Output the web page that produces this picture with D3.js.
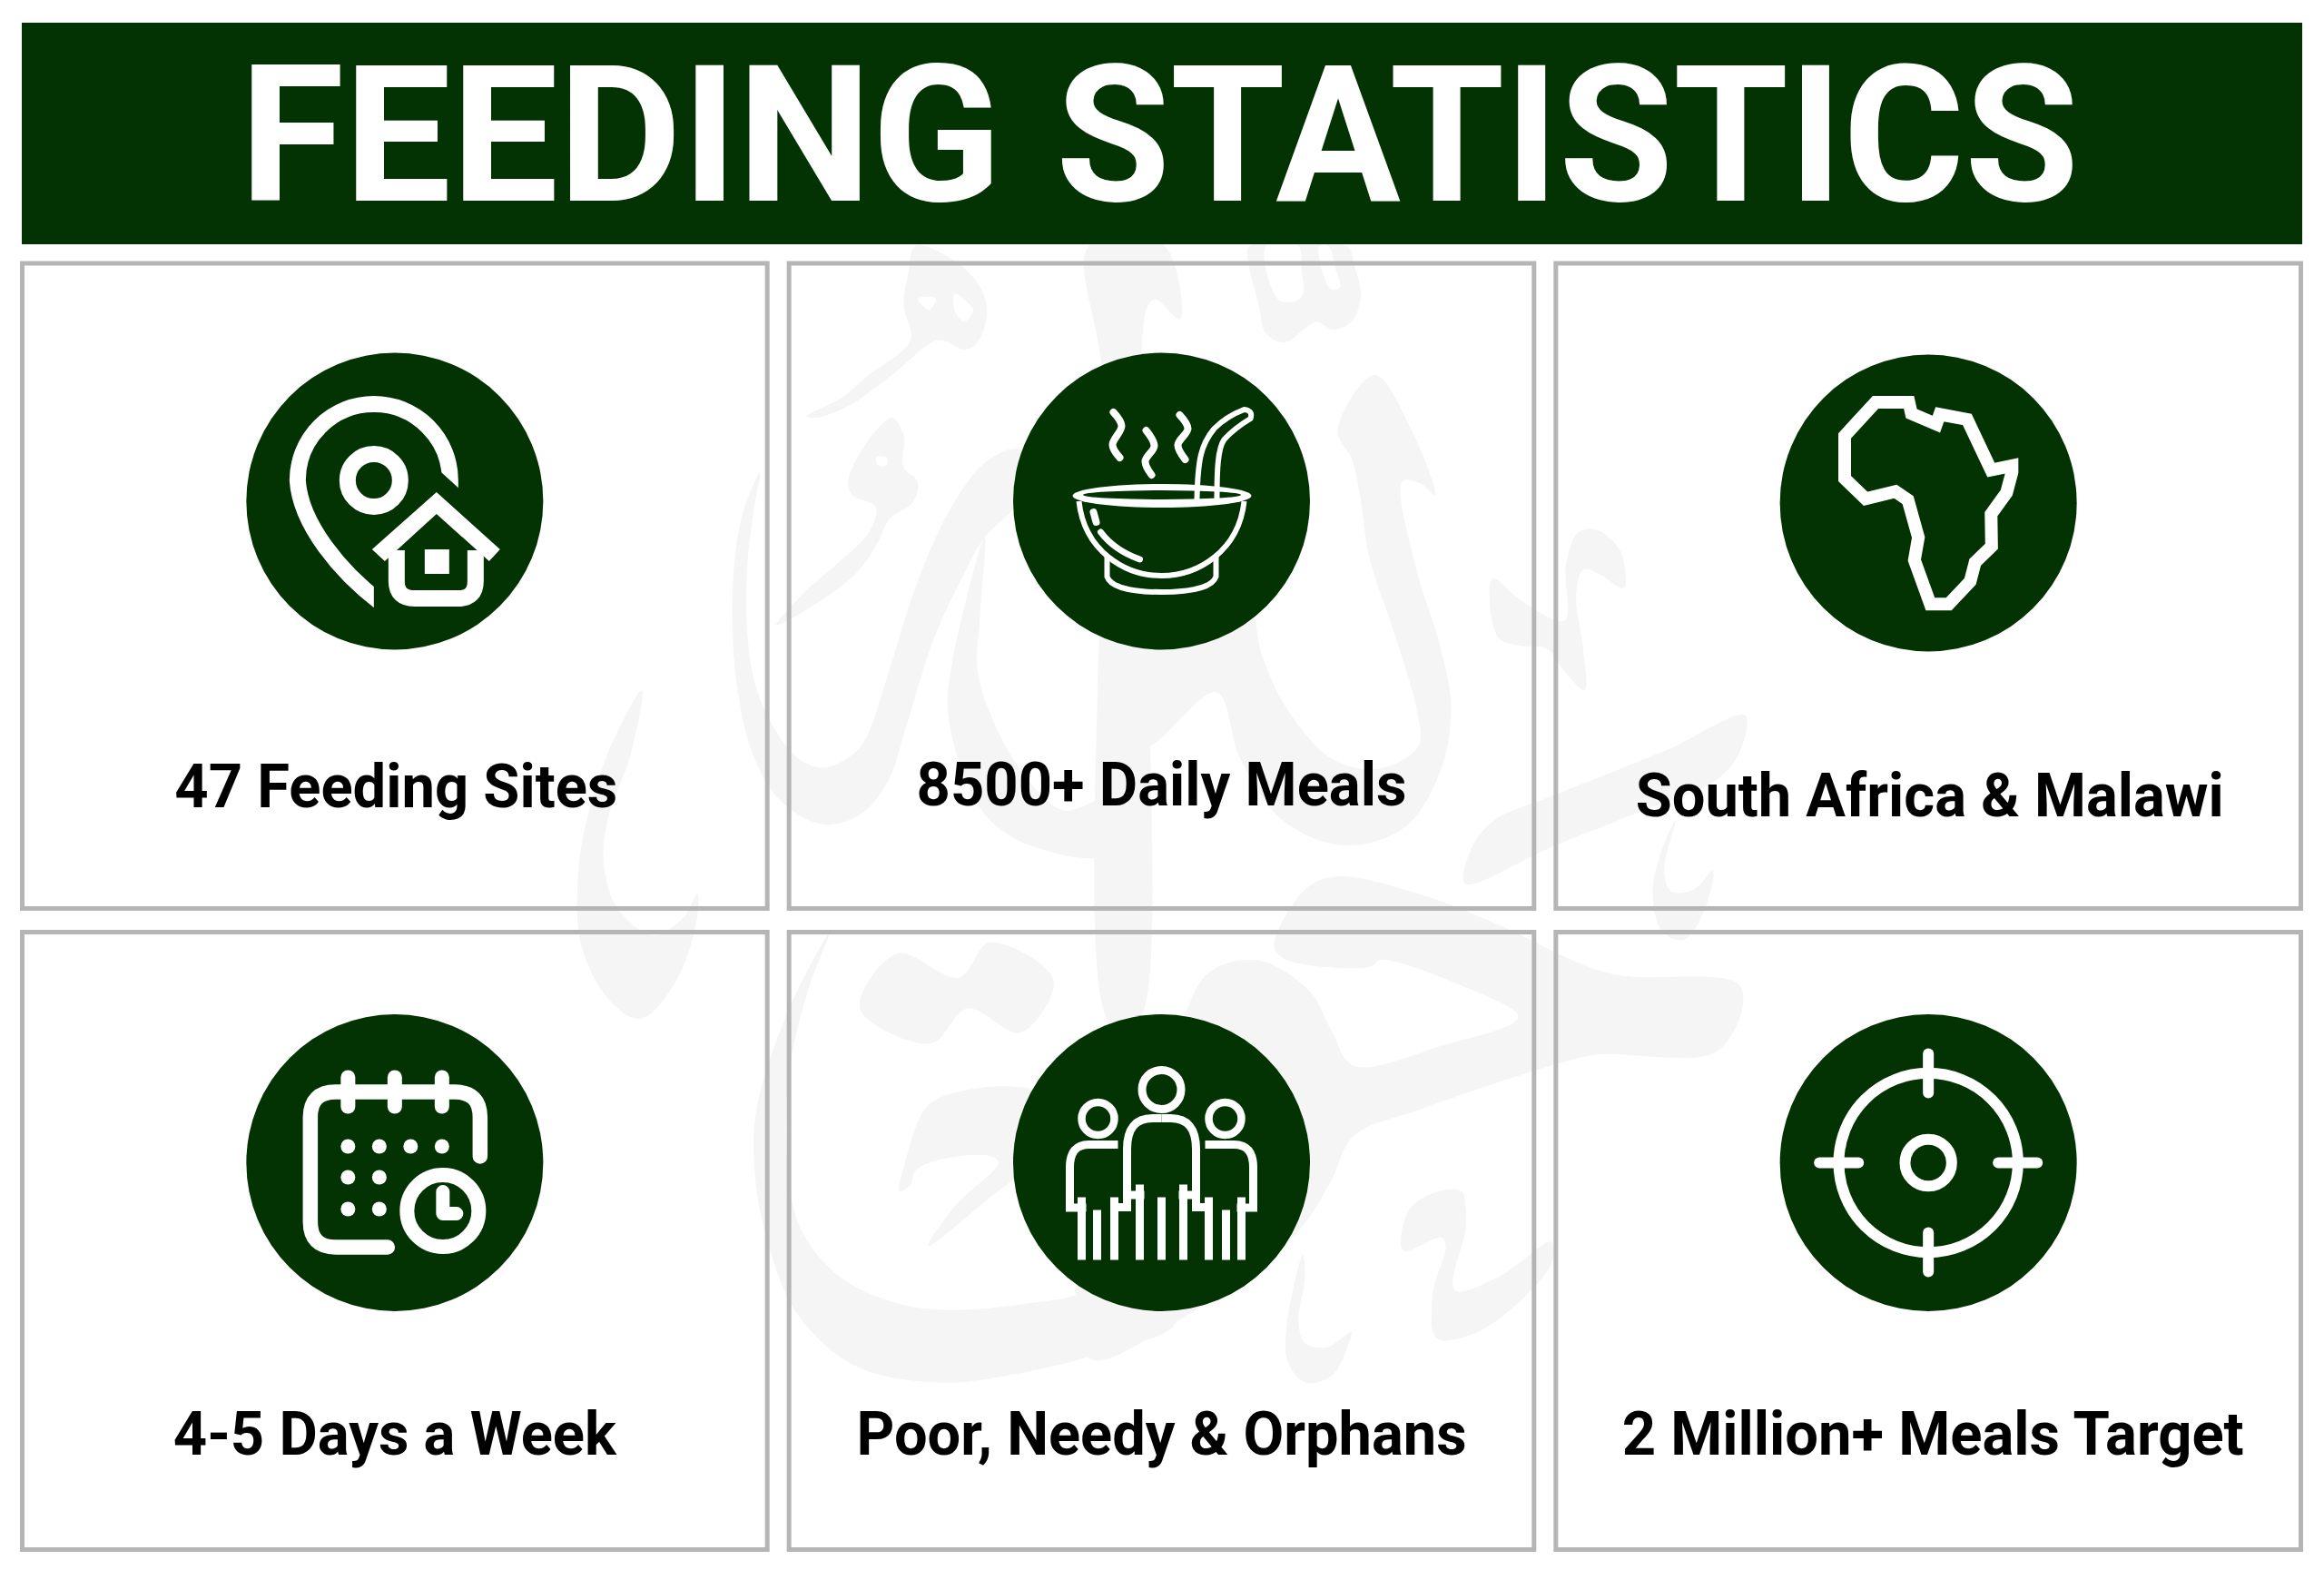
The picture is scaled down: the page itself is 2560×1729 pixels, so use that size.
<!DOCTYPE html>
<html>
<head>
<meta charset="utf-8">
<title>Feeding Statistics</title>
<script src="https://cdn.jsdelivr.net/npm/d3@7"></script>
<style>
  body { margin: 0; background: #fff; }
  svg { display: block; }
  text { font-family: Roboto, sans-serif; font-weight: 700; }
</style>
</head>
<body>
<script>
// chart content
var titleWords = ["FEEDING", "STATISTICS"];
var labels = ["47 Feeding Sites", "8500+ Daily Meals", "South Africa & Malawi",
              "4-5 Days a Week", "Poor, Needy & Orphans", "2 Million+ Meals Target"];
var icons = ["pin", "bowl", "africa", "calendar", "people", "target"];

// measured layout
var titleStarts = [264, 1163];
var titleWidths = [839, 1127];
var labelWidths = [488, 540, 648, 488, 672, 685];
var labelShifts = [1.5, 0, 1.5, 0, 0, 5];
var labelBaselines = [889, 887, 899, 1602, 1602, 1602];
var circleY = [552, 552, 554, 1280.5, 1280.5, 1280.5];
var rowTops = [290, 1026.5];
var rowBottoms = [1000.5, 1706.5];

var green = "#033302", grey = "#b5b5b5", faint = "#f5f5f5";
var width = 2560, height = 1729;

var svg = d3.select("body").append("svg")
    .attr("width", width)
    .attr("height", height);

var col = d3.scaleBand().domain([0, 1, 2]).range([22, 2537]).paddingInner(19 / 845);

function crop(ox, oy, s, pts) {
  var x = d3.scaleLinear().domain([0, s]).range([ox, ox + 1]);
  var y = d3.scaleLinear().domain([0, s]).range([oy, oy + 1]);
  return pts.map(function(p) { return [x(p[0]), y(p[1])]; });
}
var A = function(p) { return crop(600, 270, 1.96, p); };
var B = function(p) { return crop(1300, 270, 1.96, p); };
var C = function(p) { return crop(780, 970, 2.063, p); };
var D = function(p) { return crop(1200, 970, 2.063, p); };

var shapes = [
  A([[565,370],[640,330],[700,280],[790,205],[775,130],[785,60],[800,2],[880,30],[940,90],[955,150],[930,215],[905,225],[850,205],[750,280],[660,345],[590,372]]),
  A([[750,372],[775,410],[775,480],[805,510],[795,555],[745,590],[720,640],[680,700],[600,765],[500,820],[560,750],[640,680],[700,620],[715,565],[665,540],[655,510],[680,450],[720,395]]),
  A([[465,490],[430,570],[410,680],[405,800],[415,950],[450,1100],[510,1200],[600,1250],[680,1230],[740,1160],[780,1040],[840,850],[900,720],[950,630],[1020,560],[1060,470],[1020,440],[950,470],[870,580],[800,740],[740,930],[690,1070],[650,1110],[600,1128],[550,1110],[500,1050],[455,950],[437,830],[437,700],[450,580]]),
  A([[950,630],[880,900],[870,1000],[900,1130],[960,1240],[1060,1300],[1210,1315],[1210,1200],[1120,1220],[1040,1150],[970,1030],[935,920],[940,800]]),
  [[1200,270],[1215,420],[1215,1110],[1240,1150],[1263,1100],[1263,340],[1273,330],[1300,352],[1282,270]],
  A([[1300,870],[1300,1080],[1450,965],[1502,1110],[1592,1240],[1722,1295],[1852,1260],[1932,1140],[1957,1000],[1932,860],[1882,700],[1852,510],[1892,515],[1922,540],[1872,400],[1792,280],[1712,400],[1742,460],[1757,520],[1782,680],[1832,830],[1882,1000],[1887,1080],[1802,1130],[1702,1110],[1602,1000],[1547,880],[1522,780],[1400,700]]),
  B([[145,20],[170,130],[185,190],[225,210],[270,180],[295,165],[330,182],[370,165],[390,110],[375,40],[360,2],[150,2]]),
  B([[675,720],[740,770],[830,810],[833,690],[860,620],[900,615],[950,660],[958,740],[905,710],[870,700],[855,760],[870,870],[873,960],[830,920],[790,870],[740,865],[690,850],[670,790]]),
  B([[1220,1015],[1205,1100],[1150,1160],[1000,1220],[800,1300],[615,1378],[630,1300],[680,1240],[800,1190],[1050,1090]]),
  B([[1070,1240],[1035,1320],[1020,1400],[1040,1480],[1085,1500],[1130,1440],[1150,1350],[1110,1390],[1060,1395],[1045,1350]]),
  D([[420,150],[490,20],[560,-10],[750,30],[930,100],[1180,210],[1480,240],[1430,385],[1150,395],[1050,420],[750,520],[600,580],[550,680],[480,790],[350,900],[200,1000],[0,1085],[0,700],[200,340],[270,210],[380,180],[500,250],[550,340],[600,420],[800,375],[975,310],[850,240],[660,180],[640,195],[450,180]]),
  C([[280,110],[180,300],[110,520],[105,650],[130,800],[200,980],[330,1100],[520,1140],[700,1120],[900,1070],[1066,1000],[1030,800],[850,935],[730,960],[560,975],[430,960],[300,900],[210,790],[180,640],[185,430],[230,240]]),
  C([[345,290],[430,165],[570,220],[640,140],[785,225],[710,345],[590,290],[505,370]]),
  C([[435,705],[445,650],[500,510],[590,475],[720,470],[800,500],[780,600],[640,720],[500,830],[560,740],[660,640],[640,625],[520,635],[470,660],[460,690]]),
  D([[485,850],[450,1000],[450,1090],[490,1140],[550,1125],[590,1050],[595,1025],[540,1060],[490,1050],[475,1000],[490,900]]),
  D([[845,705],[780,710],[725,750],[713,840],[800,810],[810,830],[780,940],[790,1040],[870,1030],[950,980],[1050,870],[1050,820],[930,900],[830,930],[855,790],[855,740]]),
  [[707,760],[671,826],[643,918],[636,980],[640,1040],[670,1100],[705,1122],[745,1080],[768,1010],[768,984],[753,1010],[720,1030],[680,1000],[665,950],[670,900],[695,830]]
];
var holes = [
  A([[805,115],[845,115],[830,140]]),
  A([[885,105],[925,140],[905,165],[885,140]]),
  A([[716,458],[738,458],[738,476],[720,476]]),
  B([[185,2],[215,120],[262,112],[262,50],[255,2]]),
  B([[300,2],[325,95],[345,90],[335,50],[320,2]])
];

var blob = d3.line().curve(d3.curveCatmullRomClosed.alpha(0.5));
var mark = svg.append("g");
mark.selectAll(".shape").data(shapes).enter().append("path")
    .attr("class", "shape")
    .attr("d", blob)
    .attr("fill", faint);
mark.selectAll(".hole").data(holes).enter().append("path")
    .attr("class", "hole")
    .attr("d", blob)
    .attr("fill", "#fff");

// header
svg.append("rect")
    .attr("x", 24).attr("y", 25)
    .attr("width", 2512).attr("height", 244)
    .attr("fill", green);
svg.selectAll(".word").data(titleWords).enter().append("text")
    .attr("class", "word")
    .attr("x", function(d, i) { return titleStarts[i]; })
    .attr("y", 221)
    .attr("font-size", 209)
    .attr("textLength", function(d, i) { return titleWidths[i]; })
    .attr("lengthAdjust", "spacingAndGlyphs")
    .attr("fill", "#fff")
    .text(function(d) { return d; });

// cards
var card = svg.selectAll(".card").data(labels).enter().append("g").attr("class", "card");
card.append("rect")
    .attr("x", function(d, i) { return col(i % 3) + 2.5; })
    .attr("y", function(d, i) { return rowTops[Math.floor(i / 3)]; })
    .attr("width", col.bandwidth() - 5)
    .attr("height", function(d, i) { var r = Math.floor(i / 3); return rowBottoms[r] - rowTops[r]; })
    .attr("fill", "none")
    .attr("stroke", grey)
    .attr("stroke-width", 5);
card.append("text")
    .attr("x", function(d, i) { return col(i % 3) + col.bandwidth() / 2 + labelShifts[i]; })
    .attr("y", function(d, i) { return labelBaselines[i]; })
    .attr("text-anchor", "middle")
    .attr("font-size", 66)
    .attr("textLength", function(d, i) { return labelWidths[i]; })
    .attr("lengthAdjust", "spacingAndGlyphs")
    .attr("fill", "#000")
    .text(function(d) { return d; });

var badge = card.append("g")
    .attr("transform", function(d, i) {
      return "translate(" + (col(i % 3) + col.bandwidth() / 2) + "," + circleY[i] + ")";
    });
badge.append("circle").attr("r", 163.5).attr("fill", green);

function outline(g, d, w, cap) {
  return g.append("path")
      .attr("d", d)
      .attr("fill", "none")
      .attr("stroke", "#fff")
      .attr("stroke-width", w)
      .attr("stroke-linecap", cap || "butt");
}
function ring(g, x, y, r, w) {
  g.append("circle").attr("cx", x).attr("cy", y).attr("r", r)
      .attr("fill", "none").attr("stroke", "#fff").attr("stroke-width", w);
}
function dot(g, x, y, r) {
  g.append("circle").attr("cx", x).attr("cy", y).attr("r", r).attr("fill", "#fff");
}

var africaOutline = [[668,367],[735,367],[740,393],[790,418],[797,395],[852,407],[900,525],[942,515],[942,530],[931,578],[900,628],[901,703],[868,740],[858,785],[815,838],[778,838],[746,735],[754,682],[733,595],[708,575],[648,592],[606,545],[606,445]];
var wave = d3.line().curve(d3.curveCatmullRom);

var drawIcon = {
  pin: function(g) {
    outline(g, "M61,-10 V-23 A84,84 0 0 0 -107,-23 C-104,25 -60,78 -15,112", 18);
    // slanted and vertical cuts at the two ends of the pin
    g.append("path").attr("d", "M50,-33 L72,-13 V0 H45 Z").attr("fill", green);
    g.append("rect").attr("x", -23).attr("y", 85).attr("width", 20).attr("height", 40).attr("fill", green);
    ring(g, -23, -23, 29, 18);
    g.append("path").attr("d", "M-25,53 L46,-10 L116,53 L104,66 L46,14 L-11,66 Z").attr("fill", "#fff");
    outline(g, "M2,54 V88 Q2,107 22,107 H70 Q89,107 89,88 V54", 18);
    g.append("rect").attr("x", 33).attr("y", 53).attr("width", 27).attr("height", 27).attr("fill", "#fff");
  },
  bowl: function(g) {
    g.append("ellipse").attr("cx", 0.5).attr("cy", -6).attr("rx", 98.5).attr("ry", 13).attr("fill", "#fff");
    g.append("ellipse").attr("cx", 0.5).attr("cy", -7).attr("rx", 87).attr("ry", 5).attr("fill", green);
    outline(g, "M-91,0 C-85,55 -40,82 0,82 C40,82 85,55 91,0", 6);
    outline(g, "M-60,60 V83 C-55,98 -20,100 0,100 C20,100 55,98 60,83 V61", 6);
    outline(g, "M-75,12 L-72,23", 8, "round");
    outline(g, "M-67,34 Q-52,54 -24,64", 7, "round");
    [[[-53,-98],[-44,-83],[-54,-62],[-46,-48]],
     [[-17,-78],[-8,-61],[-18,-44],[-11,-29]],
     [[20,-95],[29,-80],[18,-62],[26,-46]]].forEach(function(s) {
      outline(g, wave(s), 8, "round");
    });
    outline(g, "M39,-3 C40,-45 43,-62 58,-80 C68,-90 78,-96 91,-101 Q101,-100 98,-91 C88,-85 78,-78 69,-68 C62,-58 61,-35 61,-3", 6, "round")
        .attr("stroke-linejoin", "round");
  },
  africa: function(g) {
    var x = d3.scaleLinear().domain([774, 774 + 1.823]).range([0, 1]);
    var y = d3.scaleLinear().domain([602, 602 + 2.119]).range([0, 1]);
    var shape = d3.line().x(function(p) { return x(p[0]); }).y(function(p) { return y(p[1]); })
        .curve(d3.curveLinearClosed);
    outline(g, shape(africaOutline), 14);
  },
  calendar: function(g) {
    outline(g, "M94,-7 V-50 Q94,-78 66,-78 H-65 Q-93,-78 -93,-50 V65 Q-93,93 -65,93 H-8", 16.5, "round");
    [-51.5, 0, 52].forEach(function(x) { outline(g, "M" + x + ",-94 V-62", 16, "round"); });
    [-51.5, -17, 17.5, 52].forEach(function(x) { dot(g, x, -18, 8); });
    [-51.5, -17].forEach(function(x) { dot(g, x, 16, 8); dot(g, x, 51, 8); });
    ring(g, 53, 53, 39.5, 16);
    outline(g, "M53,32 V56 H68", 15, "round").attr("stroke-linejoin", "round");
  },
  people: function(g) {
    ring(g, 0, -80.5, 21.5, 9);
    outline(g, "M0,38 V107", 9);
    [1, -1].forEach(function(m) {
      var side = g.append("g").attr("transform", "scale(" + m + ",1)");
      ring(side, -70, -48.5, 18, 8.5);
      outline(side, "M-38,49 V-15 Q-38,-49 -10,-49 H0", 9);
      outline(side, "M-24,107 V24 M-38,35.5 H-19", 9);
      outline(side, "M-48,-20 H-80 Q-101,-20 -101,5 V49.5 H-83", 9);
      outline(side, "M-88,38 V107 M-71,52 V107 M-52,38 V107 M-56,49 H-33.5", 9);
    });
  },
  target: function(g) {
    ring(g, 0, 0, 98.7, 12);
    ring(g, 0, 0, 25.7, 12);
    ["M0,-120 V-77", "M0,77 V120", "M-120,0 H-77", "M77,0 H120"].forEach(function(d) {
      outline(g, d, 12, "round");
    });
  }
};

badge.each(function(d, i) { drawIcon[icons[i]](d3.select(this)); });
</script>
</body>
</html>
